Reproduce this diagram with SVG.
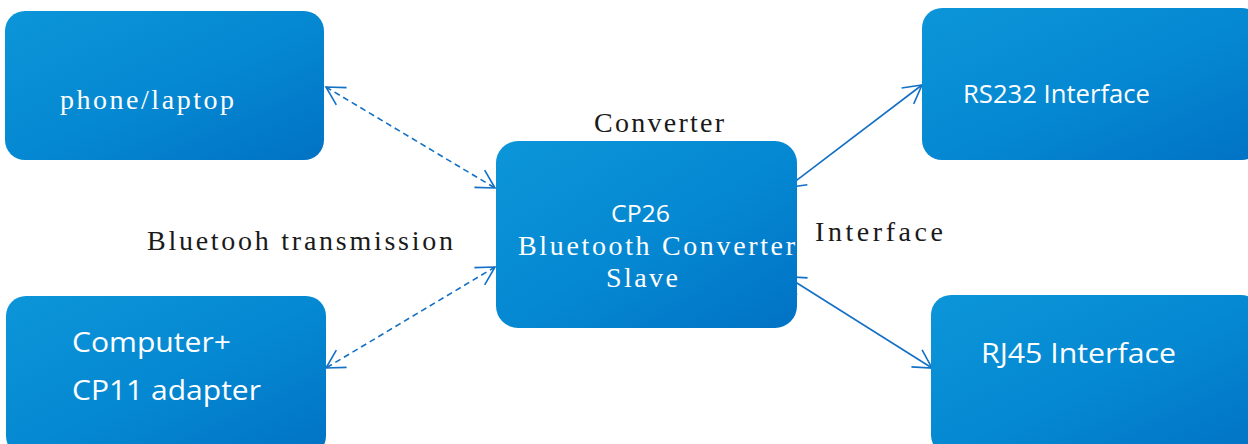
<svg xmlns="http://www.w3.org/2000/svg" width="1248" height="444" viewBox="0 0 1248 444">
<style>
.box{fill:url(#g);}
.mono{font-family:"Liberation Serif","Times New Roman",serif;font-size:28px;}
.dark{fill:#1a1a1a;}
.white{fill:#ffffff;}
.sans{font-family:"Open Sans","Noto Sans",sans-serif;fill:#ffffff;}
.conn{stroke:#1470c4;stroke-width:1.6;fill:none;}
.dash{stroke-dasharray:6 4;}
</style>
<defs>
<linearGradient id="g" x1="0" y1="0" x2="1" y2="1">
<stop offset="0" stop-color="#0c95d8"/>
<stop offset="0.5" stop-color="#0589d2"/>
<stop offset="1" stop-color="#0172c5"/>
</linearGradient>
<marker id="a" markerUnits="userSpaceOnUse" markerWidth="24" markerHeight="24" viewBox="-20 -12 24 24" refX="0" refY="0" orient="auto-start-reverse" overflow="visible">
<path d="M-18,-10 L0,0 L-18,10" fill="none" stroke="#1470c4" stroke-width="1.6"/>
</marker>
</defs>
<g id="connectors">
<line class="conn dash" x1="326" y1="87" x2="495" y2="188" marker-start="url(#a)" marker-end="url(#a)"/>
<line class="conn dash" x1="495" y1="267" x2="326" y2="368" marker-start="url(#a)" marker-end="url(#a)"/>
<line class="conn" x1="787" y1="187.6" x2="922" y2="85" marker-start="url(#a)" marker-end="url(#a)"/>
<line class="conn" x1="787" y1="276.7" x2="932" y2="368" marker-start="url(#a)" marker-end="url(#a)"/>
</g>
<g id="phone">
<rect class="box" x="5" y="11" width="319" height="149" rx="20"/>
<text class="mono white" x="60" y="109" textLength="174" lengthAdjust="spacing">phone/laptop</text>
</g>
<g id="computer">
<rect class="box" x="6" y="296" width="320" height="160" rx="20"/>
<text class="sans" x="72" y="352" font-size="28" textLength="159" lengthAdjust="spacingAndGlyphs">Computer+</text>
<text class="sans" x="72" y="400" font-size="28" textLength="189" lengthAdjust="spacingAndGlyphs">CP11 adapter</text>
</g>
<g id="cp26">
<rect class="box" x="496" y="141" width="301" height="187" rx="22"/>
<text class="sans" x="611" y="222" font-size="24" textLength="59" lengthAdjust="spacingAndGlyphs">CP26</text>
<text class="mono white" x="518" y="255" textLength="277" lengthAdjust="spacing">Bluetooth Converter</text>
<text class="mono white" x="606" y="287" textLength="72" lengthAdjust="spacing">Slave</text>
</g>
<g id="rs232">
<rect class="box" x="922" y="8" width="340" height="152" rx="20"/>
<text class="sans" x="963" y="103" font-size="25" textLength="187" lengthAdjust="spacingAndGlyphs">RS232 Interface</text>
</g>
<g id="rj45">
<rect class="box" x="931" y="295" width="330" height="160" rx="20"/>
<text class="sans" x="981" y="363" font-size="28" textLength="195" lengthAdjust="spacingAndGlyphs">RJ45 Interface</text>
</g>
<g id="labels">
<text class="mono dark" x="594" y="132" textLength="130" lengthAdjust="spacing">Converter</text>
<text class="mono dark" x="815" y="241" textLength="128" lengthAdjust="spacing">Interface</text>
<text class="mono dark" x="147" y="250" textLength="306" lengthAdjust="spacing">Bluetooh transmission</text>
</g>
</svg>
